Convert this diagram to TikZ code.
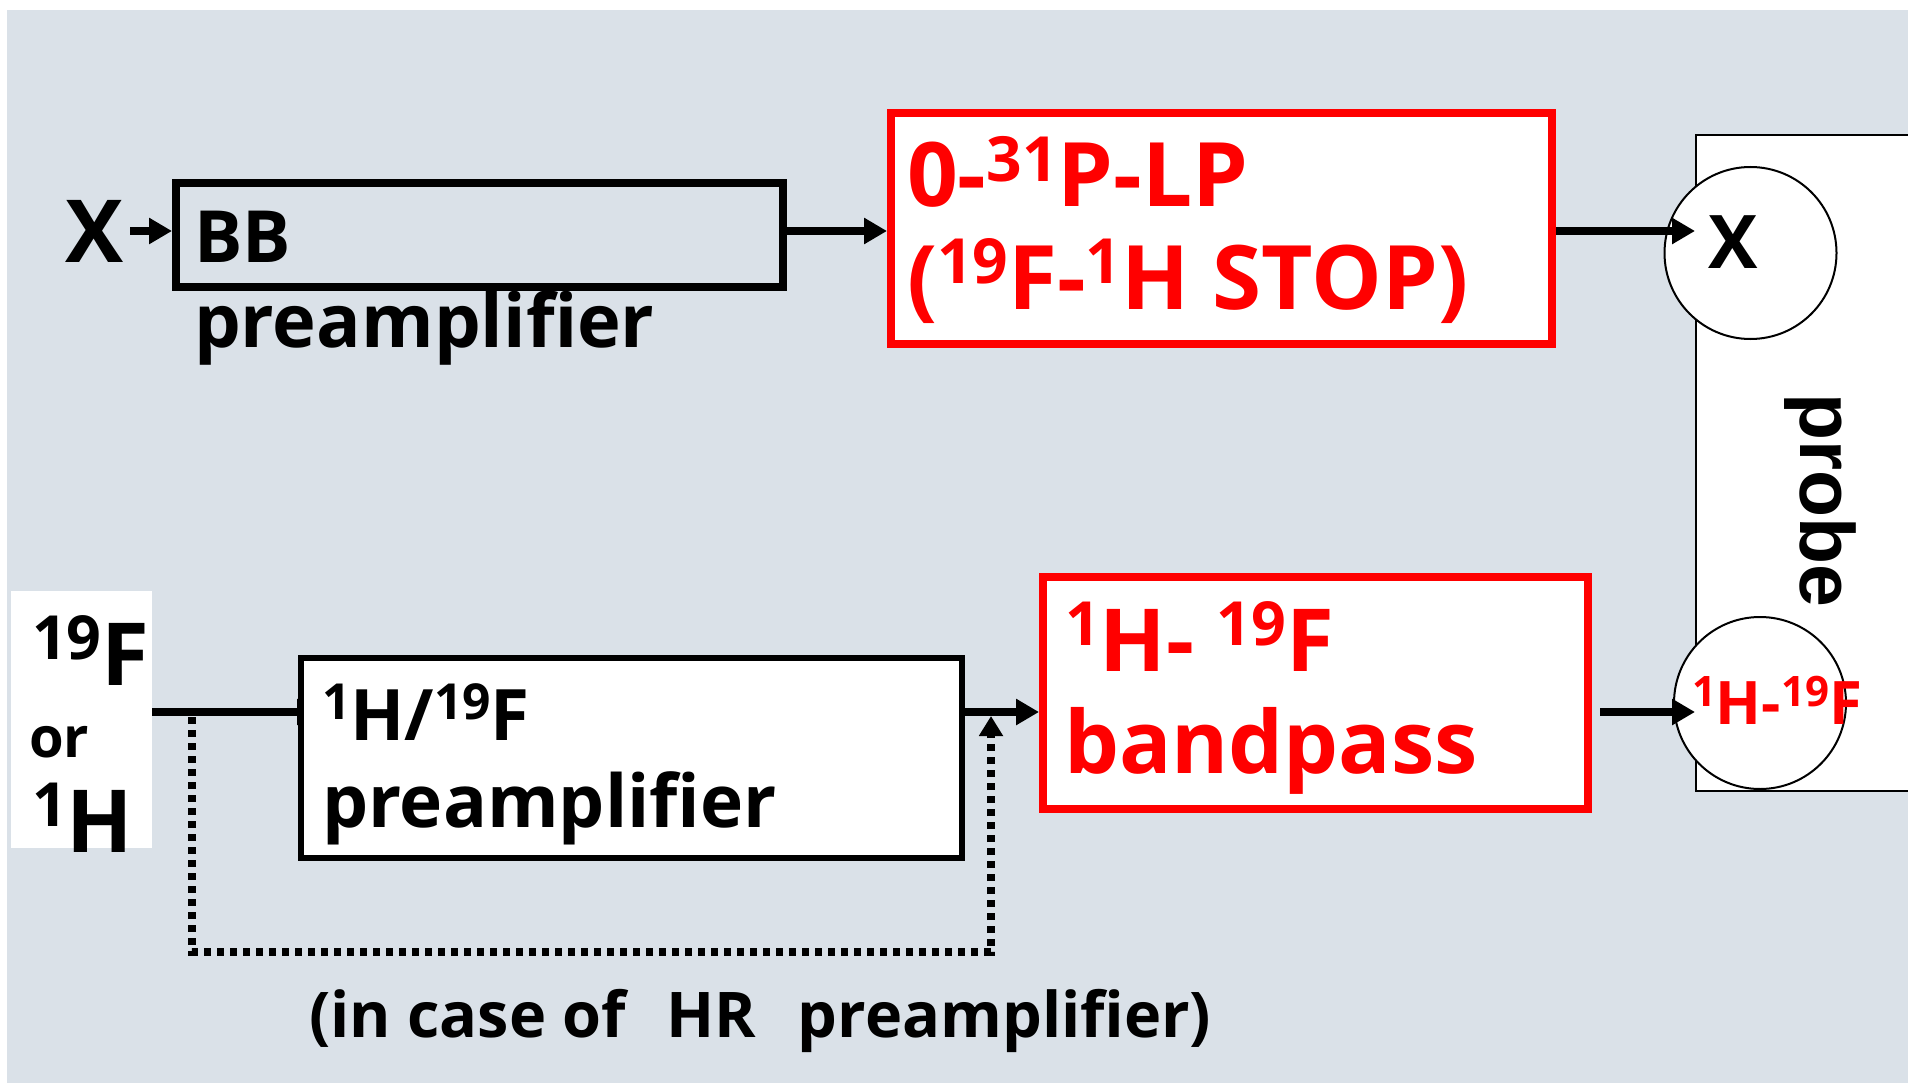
\documentclass[tikz,border=0pt]{standalone}
\usepackage{fontspec}
\setmainfont{Open Sans}
\newfontfamily\probefont{Liberation Sans}
\usepackage{graphicx}
\usetikzlibrary{arrows.meta}
\pgfdeclarelayer{back}
\pgfdeclarelayer{under}
\pgfsetlayers{back,under,main}
\definecolor{bgc}{RGB}{218,225,232}
\definecolor{redc}{RGB}{255,0,0}
\newcommand\fsz[1]{\fontsize{#1pt}{#1pt}\selectfont\bfseries}
\newcommand\upi[1]{\raisebox{0.29em}{\scalebox{0.7}{#1}}}
\tikzset{
  txt/.style={inner sep=0pt, outer sep=0pt, anchor=base west},
  blkbox/.style={draw=black, line width=8pt, inner sep=0pt},
  redbox/.style={draw=redc, fill=white, line width=8pt, inner sep=0pt},
  ring/.style={circle, draw=black, fill=white, line width=2pt, inner sep=0pt, minimum size=172pt},
  conn/.style={line width=8.5pt, -{Triangle[length=23pt,width=25pt]}},
  dotconn/.style={line width=7.5pt, dash pattern=on 7pt off 6pt, -{Triangle[length=20pt,width=23pt]}},
}
\begin{document}
\begin{tikzpicture}[x=1pt,y=-1pt]
\useasboundingbox (0,0) rectangle (1908,1083);
\begin{pgfonlayer}{back}
\fill[bgc] (7,10) rectangle (1908,1083);
\end{pgfonlayer}
\coordinate (toprow) at (0,231);
\coordinate (lowrow) at (0,712);

% probe
\node[draw=black, fill=white, line width=2pt, minimum width=260pt, minimum height=656pt, inner sep=0pt] (probe) at (1826,463) {};
\node[inner sep=0pt, anchor=base, rotate=-90, font=\probefont\fsz{77}] (probelbl) at (1800,500) {probe};

% circles
\node[ring] (cx) at (1750.5,253) {};
\node[ring] (ch) at (1760,703) {};

% top row
\node[txt, font=\fsz{87}] (xin) at (65,262) {X};
\node[blkbox, minimum width=607pt, minimum height=104pt] (bb) at (479.5,235) {};
\node[txt, font=\fsz{72}] (bbl) at (194,263) {BB};
\node[txt, font=\fsz{74}] (bbp) at (194,347) {preamplifier};
\node[redbox, minimum width=661pt, minimum height=231pt] (lp) at (1221.5,228.5) {};
\node[txt, font=\fsz{89}, text=redc] (lp1) at (907,207) {0-\upi{31}P-LP};
\node[txt, font=\fsz{89}, text=redc] (lp2) at (907,309) {(\upi{19}F-\upi{1}H STOP)};

\draw[conn, shorten <=7pt] (xin.east |- toprow) -- (bb.west |- toprow);
\draw[conn] (bb.east |- toprow) -- (lp.west |- toprow);
\draw[conn] (lp.east |- toprow) -- (probe.west |- toprow);
\node[txt, font=\fsz{74}] (cxl) at (1708,269) {X};

% lower row
\node[fill=white, minimum width=141pt, minimum height=257pt, inner sep=0pt, outer sep=0pt] (src) at (81.5,719.5) {};
\node[txt, font=\fsz{87}] (srcF) at (32,685) {\upi{19}F};
\node[txt, font=\fsz{56}] (srcor) at (29,757) {or};
\node[txt, font=\fsz{87}] (srcH) at (32,852) {\upi{1}H};

\node[draw=black, fill=white, line width=6pt, inner sep=0pt, minimum width=661pt, minimum height=200pt] (pre) at (631.5,758) {};
\node[txt, font=\fsz{71}] (pre1) at (322,740) {\upi{1}H/\upi{19}F};
\node[txt, font=\fsz{73}] (pre2) at (322,827) {preamplifier};

\node[redbox, minimum width=545pt, minimum height=232pt] (bp) at (1315.5,693) {};
\node[txt, font=\fsz{87}, text=redc] (bp1) at (1065,671) {\upi{1}H- \upi{19}F};
\node[txt, font=\fsz{87}, text=redc] (bp2) at (1064,773) {bandpass};

\begin{pgfonlayer}{under}
\draw[conn, shorten >=-22pt] (src.east |- lowrow) -- (pre.west |- lowrow);
\end{pgfonlayer}
\draw[conn] (pre.east |- lowrow) -- (bp.west |- lowrow);
\draw[conn, shorten <=8pt] (bp.east |- lowrow) -- (probe.west |- lowrow);
\node[txt, font=\fsz{60}, text=redc] (chl) at (1692,724) {\upi{1}H-\upi{19}F};

\coordinate (dA) at (192,717);
\coordinate (dB) at (991,716);
\draw[dotconn] (dA) -- ++(0,235) -| (dB);

\node[txt, font=\fsz{63}] (note) at (309,1037) {(in case of\hspace{40pt}HR\hspace{42pt}preamplifier)};
\end{tikzpicture}
\end{document}
